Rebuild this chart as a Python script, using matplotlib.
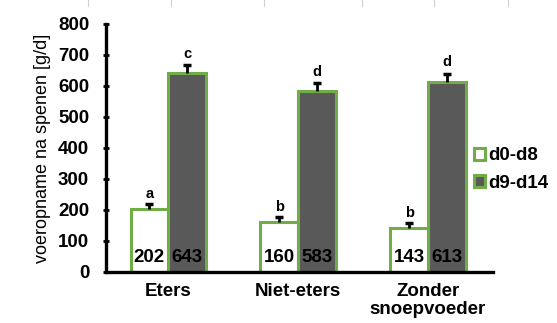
import matplotlib.pyplot as plt
from matplotlib.lines import Line2D
from matplotlib.patches import Patch
import numpy as np

groups = ['Eters', 'Niet-eters', 'Zonder\nsnoepvoeder']
d0_d8 = [202, 160, 143]
d9_d14 = [643, 583, 613]
err_d0 = [18, 18, 16]
err_d9 = [24, 25, 26]
let_d0 = ['a', 'b', 'b']
let_d9 = ['c', 'd', 'd']

plt.rcParams['font.family'] = ['Liberation Sans', 'DejaVu Sans']

green = '#70AD47'
dark = '#595959'
fs = 13.5

fig = plt.figure(figsize=(5.57, 3.23), dpi=100)
ax = fig.add_axes([0.190, 0.158, 0.695, 0.768])

x = np.arange(len(groups))
w = 0.29
ax.bar(x - w / 2, d0_d8, w, color='white', edgecolor=green, linewidth=2.2, zorder=2)
ax.bar(x + w / 2, d9_d14, w, color=dark, edgecolor=green, linewidth=2.2, zorder=2)

# one-sided error bars (upper only)
for xs, vals, errs in [(x - w / 2, d0_d8, err_d0), (x + w / 2, d9_d14, err_d9)]:
    tops = np.array(vals) + np.array(errs)
    ax.vlines(xs, vals, tops, color='black', linewidth=2, zorder=3)
    ax.plot(xs, tops, linestyle='none', marker='_', markersize=6,
            markeredgewidth=2.5, color='black', zorder=3)

for i in range(len(groups)):
    ax.text(x[i] - w / 2, 48, str(d0_d8[i]), ha='center', va='center',
            fontsize=fs, fontweight='bold', zorder=4)
    ax.text(x[i] + w / 2, 48, str(d9_d14[i]), ha='center', va='center',
            fontsize=fs, fontweight='bold', zorder=4)
    ax.text(x[i] - w / 2, d0_d8[i] + err_d0[i] + 32, let_d0[i], ha='center',
            va='center', fontsize=10.5, fontweight='bold')
    ax.text(x[i] + w / 2, d9_d14[i] + err_d9[i] + 37, let_d9[i], ha='center',
            va='center', fontsize=10.5, fontweight='bold')

ax.set_xlim(-0.48, 2.5)
ax.set_ylim(0, 800)
ax.set_yticks(np.arange(0, 801, 100))
ax.set_xticks(x)
ax.set_xticklabels(groups, fontsize=fs, fontweight='bold', linespacing=1.05)
for lbl in ax.get_yticklabels():
    lbl.set_fontsize(fs)
    lbl.set_fontweight('bold')
ax.tick_params(axis='x', length=0, pad=8)
ax.tick_params(axis='y', length=4, width=2, pad=10, direction='inout')
ax.spines['top'].set_visible(False)
ax.spines['right'].set_visible(False)
ax.spines['left'].set_linewidth(2.4)
ax.spines['bottom'].set_linewidth(2.4)
ax.set_ylabel('voeropname na spenen [g/d]', fontsize=13, labelpad=5)

handles = [Patch(facecolor='white', edgecolor=green, linewidth=2.2),
           Patch(facecolor=dark, edgecolor=green, linewidth=2.2)]
fig.legend(handles, ['d0-d8', 'd9-d14'], loc='center left',
           bbox_to_anchor=(0.82, 0.475), frameon=False,
           prop={'size': fs, 'weight': 'bold'},
           handlelength=0.6, handleheight=0.6, handletextpad=0.2,
           labelspacing=0.55)

# faint sheet gridlines at the top edge
for gx in [88, 171, 264, 362, 434, 508]:
    fig.add_artist(Line2D([gx / 557, gx / 557], [1, 1 - 6 / 323],
                          color='#d0d0d0', linewidth=0.8))

fig.savefig('out.png', dpi=100)
